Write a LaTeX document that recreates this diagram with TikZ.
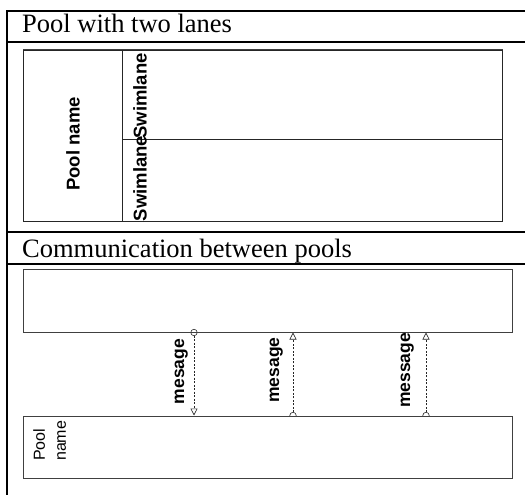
\documentclass[tikz,border=0pt]{standalone}
\usepackage{fontspec}
\setmainfont{Liberation Serif}
\newfontfamily\arialfont{Liberation Sans}
\usetikzlibrary{arrows.meta,backgrounds,calc}

\begin{document}
\begin{tikzpicture}[x=1pt,y=-1pt,
  frameline/.style={line width=2pt, black},
  heading/.style={font=\fontsize{26.5}{30}\selectfont, inner sep=0pt, anchor=base west},
  poolbox/.style={draw=black!75, line width=1pt, inner sep=0pt},
  lanebox/.style={draw=black!85, line width=0.8pt, inner sep=0pt},
  boldlabel/.style={font=\arialfont\bfseries\fontsize{18.5}{21}\selectfont, inner sep=0pt, rotate=90, anchor=south},
  msglabel/.style={font=\arialfont\bfseries\fontsize{17.5}{20}\selectfont, inner sep=0pt, rotate=90, anchor=south},
  msgflow/.style={dash pattern=on 2pt off 1.5pt, line width=0.6pt, black!85,
    {Circle[open,length=7pt,width=7pt]}-{Triangle[open,length=7pt,width=7pt]}, shorten <=-3.5pt},
]
\useasboundingbox (0,0) rectangle (525,495);
\clip (0,0) rectangle (525,495);

% table frame
\draw[frameline] (530,11) -- (7,11) -- (7,500);
\draw[frameline] (7,42) -- (530,42);
\draw[frameline] (7,231.5) -- (530,231.5);
\draw[frameline] (7,263.5) -- (530,263.5);

\node[heading] (title1) at (22,33) {Pool with two lanes};
\node[heading] (title2) at (22,257) {Communication between pools};

% pool with two lanes
\node[poolbox, minimum width=479pt, minimum height=171pt] (pool) at (262.5,135.5) {};
\node[lanebox, minimum width=99pt, minimum height=171pt] (poolhead) at (72.5,135.5) {};
\node[lanebox, minimum width=380pt, minimum height=89pt] (lane1) at (312,94.5) {};
\node[lanebox, minimum width=380pt, minimum height=82pt] (lane2) at (312,180) {};
\node[boldlabel] (poolname) at (80,144) {Pool name};
\node[boldlabel] (lane1label) at (147,96) {Swimlane};
\node[boldlabel] (lane2label) at (147,178.5) {Swimlane};

% communication between pools
\node[poolbox, minimum width=489pt, minimum height=63pt] (sender) at (267.5,300.5) {};
\node[poolbox, fill=white, minimum width=489pt, minimum height=62pt] (receiver) at (267.5,447) {};
\node[font=\arialfont\fontsize{16}{21}\selectfont, align=left, inner sep=0pt, rotate=90, anchor=north west] (receivername) at (33,461) {Pool\\name};

\coordinate (m1) at (194,0);
\coordinate (m2) at (293,0);
\coordinate (m3) at (426,0);

\begin{scope}[on background layer]
\draw[msgflow] (sender.south -| m1) -- (receiver.north -| m1);
\draw[msgflow] (receiver.north -| m2) -- (sender.south -| m2);
\draw[msgflow] (receiver.north -| m3) -- (sender.south -| m3);
\end{scope}

\node[msglabel] (msg1) at (188,371.5) {mesage};
\node[msglabel] (msg2) at (283,370) {mesage};
\node[msglabel] (msg3) at (414,370.5) {message};
\end{tikzpicture}
\end{document}
